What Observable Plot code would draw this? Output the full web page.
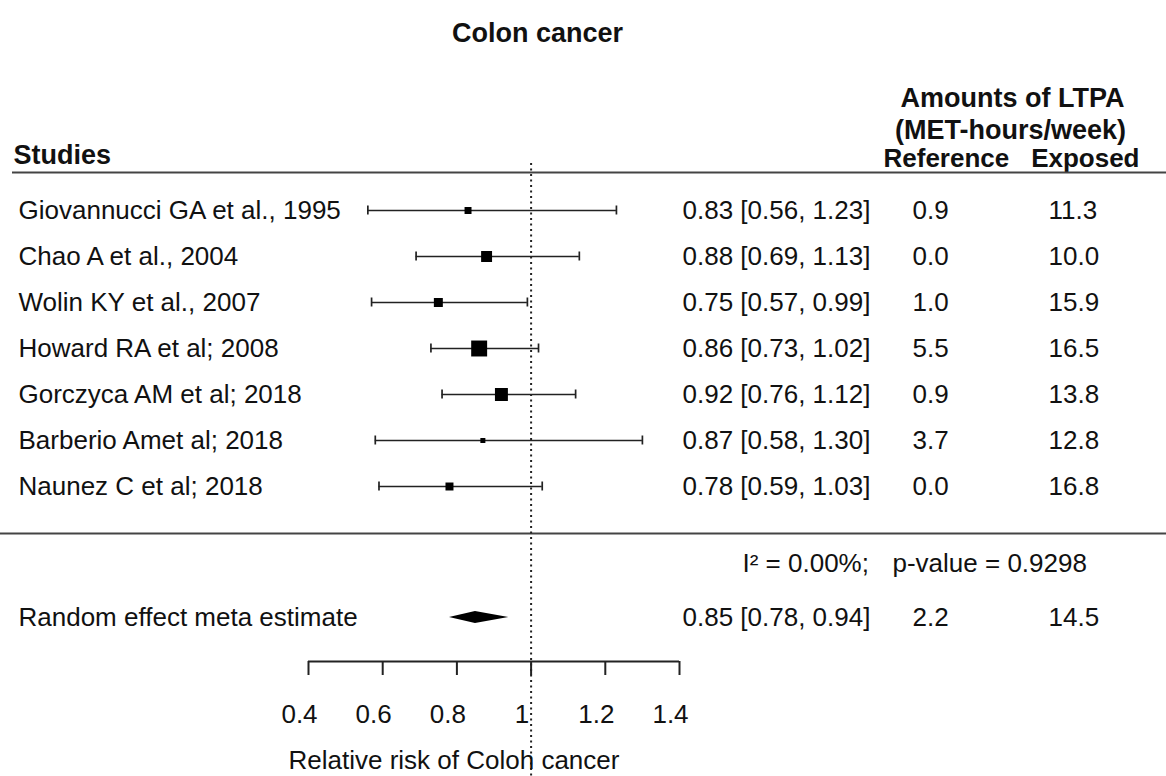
<!DOCTYPE html>
<html>
<head>
<meta charset="utf-8">
<script src="https://cdn.jsdelivr.net/npm/d3@7"></script>
<script src="https://cdn.jsdelivr.net/npm/@observablehq/plot@0.6"></script>
<style>
  html, body { margin: 0; padding: 0; background: #fff; }
  #chart { width: 1166px; height: 776px; }
</style>
</head>
<body>
<div id="chart"></div>
<script>
// ---------- data ----------
const chartTitle = "Colon cancer";
const studies = [
  "Giovannucci GA et al., 1995",
  "Chao A et al., 2004",
  "Wolin KY et al., 2007",
  "Howard RA et al; 2008",
  "Gorczyca AM et al; 2018",
  "Barberio Amet al; 2018",
  "Naunez C et al; 2018"
];
const rr    = [0.83, 0.88, 0.75, 0.86, 0.92, 0.87, 0.78];
const lower = [0.56, 0.69, 0.57, 0.73, 0.76, 0.58, 0.59];
const upper = [1.23, 1.13, 0.99, 1.02, 1.12, 1.30, 1.03];
const weights = [6.4, 15.8, 10.6, 33.5, 22.1, 3.3, 8.4]; // estimated relative weights (%), box size
const refAmount = [0.9, 0.0, 1.0, 5.5, 0.9, 3.7, 0.0];
const expAmount = [11.3, 10.0, 15.9, 16.5, 13.8, 12.8, 16.8];

const summaryLabel = "Random effect meta estimate";
const summaryRR = 0.85, summaryLower = 0.78, summaryUpper = 0.94;
const summaryRef = 2.2, summaryExp = 14.5;
const heterogeneityText = "I\u00B2 = 0.00%;";
const pValueText = "p-value = 0.9298";

const xTicks = [0.4, 0.6, 0.8, 1, 1.2, 1.4];
const xLabel = "Relative risk of Coloh cancer";
const studiesHeader = "Studies";
const amountsHeader = ["Amounts of LTPA", "(MET-hours/week)"];
const refHeader = "Reference";
const expHeader = "Exposed";

// ---------- table ----------
const rows = studies.map((s, i) => ({
  study: s, row: i, rr: rr[i], lo: lower[i], hi: upper[i], w: weights[i],
  est: `${rr[i].toFixed(2)} [${lower[i].toFixed(2)}, ${upper[i].toFixed(2)}]`,
  ref: refAmount[i].toFixed(1), exp: expAmount[i].toFixed(1)
}));

// ---------- layout (row units: one study row = 1) ----------
const W = 1166, H = 776, MB = 115;
const ROW0 = 210, ROWH = 46;            // first study row centre and row pitch (px)
const toRow = px => (px - ROW0) / ROWH;  // layout helper
const L = {
  title: toRow(33), amount1: toRow(98), amount2: toRow(130), header: toRow(158),
  studies: toRow(155), topLine: toRow(172), dotTop: toRow(163),
  sep: toRow(533), hetero: toRow(563), summary: toRow(617),
  xlabel: toRow(760), dotBottom: toRow(776)
};
const CAP = 4.5 / ROWH, DIAM = 6 / ROWH;
const summaryRow = L.summary;
const diamond = [
  {x: summaryLower, y1: summaryRow, y2: summaryRow},
  {x: summaryRR, y1: summaryRow - DIAM, y2: summaryRow + DIAM},
  {x: summaryUpper, y1: summaryRow, y2: summaryRow}
];

// x scale: 0.4 -> 308px, 1.4 -> 679px
const PX04 = 308, PXPERUNIT = 371;
const xDomain = [0.4 - PX04 / PXPERUNIT, 0.4 + (W - PX04) / PXPERUNIT];
const yDomain = [toRow(0), toRow(H - MB)];

const ink = "#111";
const FS = 26, FSB = 27;
const colEst = 682, colRef = 912, colExp = 1048, colLab = 18;

const plot = Plot.plot({
  width: W, height: H,
  marginLeft: 0, marginRight: 0, marginTop: 0, marginBottom: MB,
  x: {domain: xDomain, range: [0, W]},
  y: {domain: yDomain, reverse: true, axis: null},
  r: {type: "sqrt", domain: [0, d3.max(weights)], range: [0, 9]},
  style: {fontFamily: "'Liberation Sans', Arial, sans-serif", fontSize: FS + "px", color: ink, background: "#fff"},
  marks: [
    // title & headers
    Plot.text([chartTitle], {frameAnchor: "left", dx: 537, y: L.title, text: d => d, fontWeight: "bold", fontSize: FSB, textAnchor: "middle", fill: ink}),
    Plot.text([studiesHeader], {frameAnchor: "left", dx: 13, y: L.studies, text: d => d, fontWeight: "bold", fontSize: FSB, textAnchor: "start", fill: ink}),
    Plot.text([amountsHeader[0]], {frameAnchor: "left", dx: 1012, y: L.amount1, text: d => d, fontWeight: "bold", fontSize: FSB, textAnchor: "middle", fill: ink}),
    Plot.text([amountsHeader[1]], {frameAnchor: "left", dx: 1010, y: L.amount2, text: d => d, fontWeight: "bold", fontSize: FSB, textAnchor: "middle", fill: ink}),
    Plot.text([refHeader], {frameAnchor: "left", dx: 883, y: L.header, text: d => d, fontWeight: "bold", fontSize: FS, textAnchor: "start", fill: ink}),
    Plot.text([expHeader], {frameAnchor: "left", dx: 1139, y: L.header, text: d => d, fontWeight: "bold", fontSize: FS, textAnchor: "end", fill: ink}),

    // horizontal separators
    Plot.ruleY([L.topLine], {y: d => d, stroke: "#444", strokeWidth: 2, insetLeft: 12}),
    Plot.ruleY([L.sep], {y: d => d, stroke: "#444", strokeWidth: 2}),

    // reference line at RR = 1
    Plot.ruleX([1], {x: d => d, y1: L.dotTop, y2: L.dotBottom, stroke: "#222", strokeWidth: 2, strokeDasharray: "2,3.5"}),

    // confidence intervals
    Plot.ruleY(rows, {y: "row", x1: "lo", x2: "hi", stroke: "#222", strokeWidth: 1.7}),
    Plot.ruleX(rows, {x: "lo", y1: d => d.row - CAP, y2: d => d.row + CAP, stroke: "#222", strokeWidth: 1.7}),
    Plot.ruleX(rows, {x: "hi", y1: d => d.row - CAP, y2: d => d.row + CAP, stroke: "#222", strokeWidth: 1.7}),
    Plot.dot(rows, {x: "rr", y: "row", r: "w", symbol: "square", fill: "#000", stroke: null}),

    // summary diamond
    Plot.areaY(diamond, {x: "x", y1: "y1", y2: "y2", fill: "#000", curve: "linear"}),

    // text columns
    Plot.text(rows, {frameAnchor: "left", dx: colLab, y: "row", text: "study", textAnchor: "start", fill: ink}),
    Plot.text(rows, {frameAnchor: "left", dx: colEst, y: "row", text: "est", textAnchor: "start", fill: ink}),
    Plot.text(rows, {frameAnchor: "left", dx: colRef, y: "row", text: "ref", textAnchor: "start", fill: ink}),
    Plot.text(rows, {frameAnchor: "left", dx: colExp, y: "row", text: "exp", textAnchor: "start", fill: ink}),

    Plot.text([heterogeneityText], {frameAnchor: "left", dx: 742, y: L.hetero, text: d => d, textAnchor: "start", fill: ink}),
    Plot.text([pValueText], {frameAnchor: "left", dx: 892, y: L.hetero, text: d => d, textAnchor: "start", fill: ink}),

    Plot.text([summaryLabel], {frameAnchor: "left", dx: colLab, y: summaryRow, text: d => d, textAnchor: "start", fill: ink}),
    Plot.text([`${summaryRR.toFixed(2)} [${summaryLower.toFixed(2)}, ${summaryUpper.toFixed(2)}]`], {frameAnchor: "left", dx: colEst, y: summaryRow, text: d => d, textAnchor: "start", fill: ink}),
    Plot.text([summaryRef.toFixed(1)], {frameAnchor: "left", dx: colRef, y: summaryRow, text: d => d, textAnchor: "start", fill: ink}),
    Plot.text([summaryExp.toFixed(1)], {frameAnchor: "left", dx: colExp, y: summaryRow, text: d => d, textAnchor: "start", fill: ink}),

    // x axis: line, ticks, and (slightly left-shifted) tick labels as in the original
    Plot.ruleY([yDomain[1]], {y: d => d, x1: d3.min(xTicks), x2: d3.max(xTicks), stroke: "#222", strokeWidth: 2}),
    Plot.axisX({ticks: xTicks, tickFormat: () => "", tickSize: 14, stroke: "#222", strokeWidth: 2, label: null}),
    Plot.axisX({ticks: xTicks, tickFormat: d => String(d), tickSize: 0, tickPadding: 43, dx: -9, fontSize: FS, fill: ink, label: null}),
    Plot.text([xLabel], {x: d3.min(xTicks), dx: -20, y: L.xlabel, text: d => d, textAnchor: "start", fill: ink})
  ]
});
document.getElementById("chart").appendChild(plot);
</script>
</body>
</html>
